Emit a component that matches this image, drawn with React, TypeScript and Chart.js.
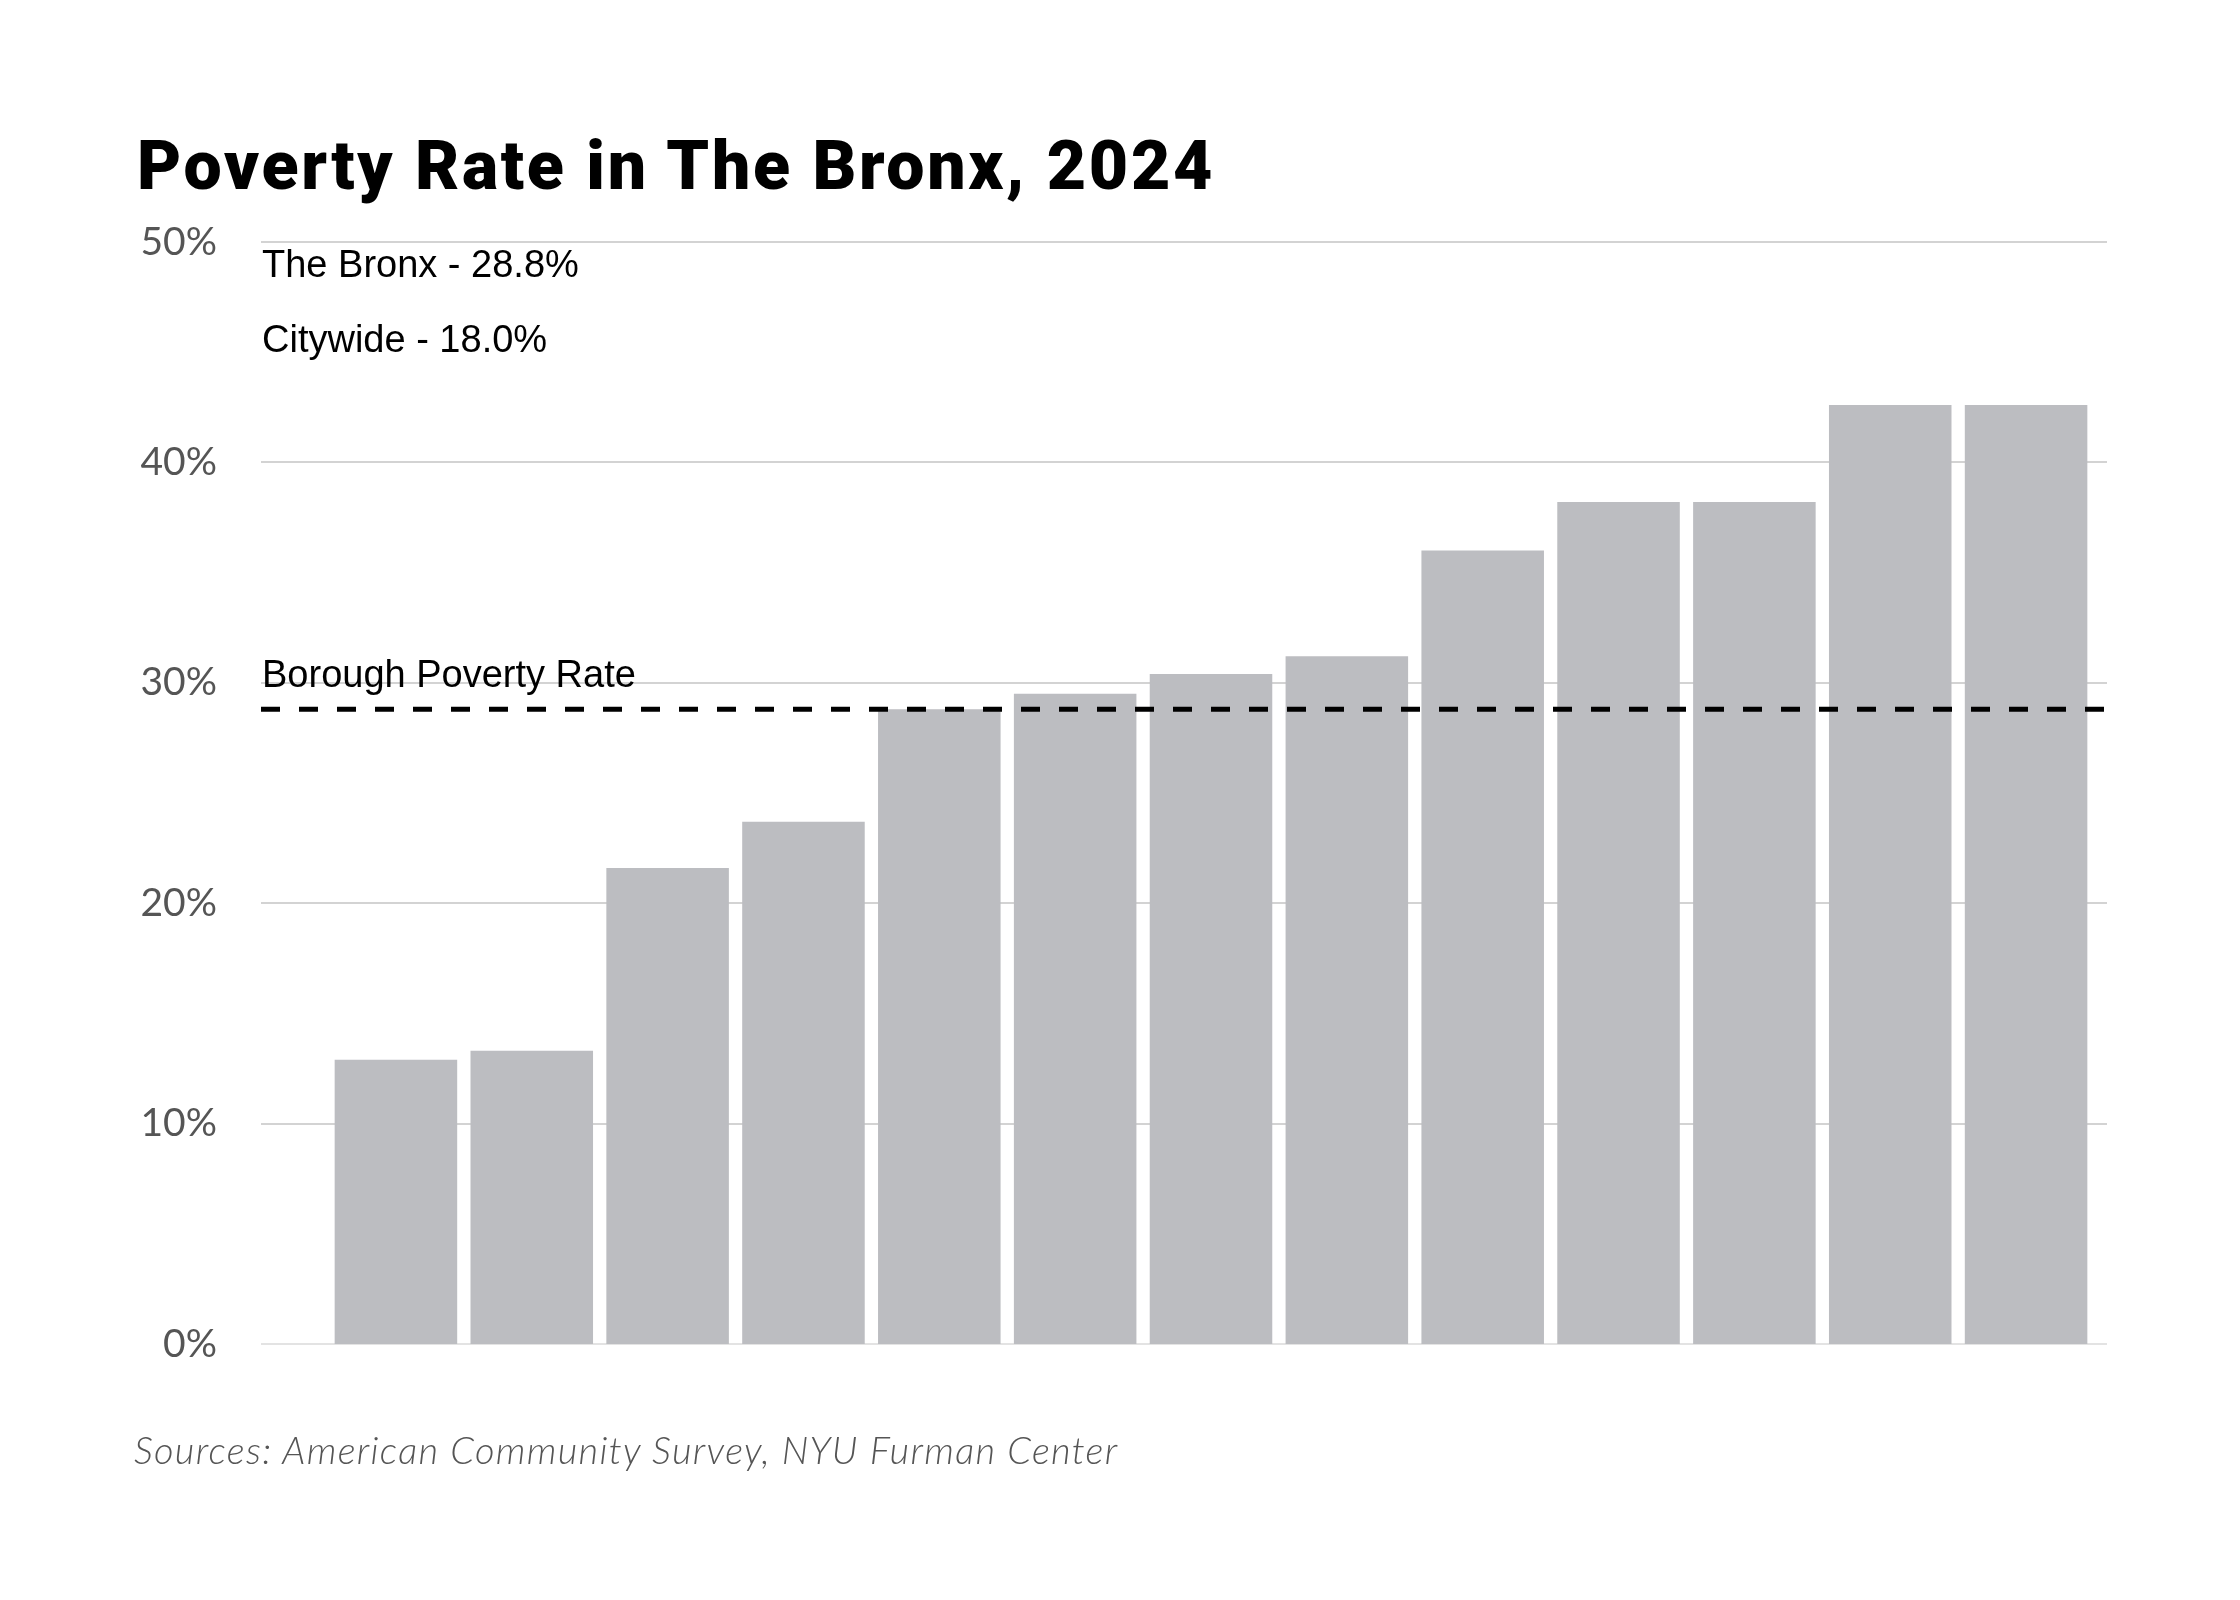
import React, { useEffect, useRef } from "react";
import { Chart, registerables } from "chart.js";

Chart.register(...registerables);

// sorted poverty rate by area (percent)
const areas = [
  "Area 1", "Area 2", "Area 3", "Area 4", "Area 5", "Area 6", "Area 7",
  "Area 8", "Area 9", "Area 10", "Area 11", "Area 12", "Area 13",
];
const povertyRates = [12.9, 13.3, 21.6, 23.7, 28.8, 29.5, 30.4, 31.2, 36.0, 38.2, 38.2, 42.6, 42.6];
const yTicks = [0, 10, 20, 30, 40, 50];
const boroughRate = 28.8;
const summaryLines = ["The Bronx - 28.8%", "Citywide - 18.0%"];
const refLabel = "Borough Poverty Rate";

const GRID_LEFT = 67;
const GRID_RIGHT = 13;

const overlayPlugin = {
  id: "overlay",
  beforeDatasetsDraw(chart: any) {
    const { ctx, chartArea, scales } = chart;
    const y = scales.y;
    ctx.save();
    ctx.lineWidth = 2;
    yTicks.forEach((t) => {
      const py = Math.round(y.getPixelForValue(t));
      ctx.strokeStyle = t === 0 ? "#e3e3e3" : "#d3d3d3";
      ctx.beginPath();
      ctx.moveTo(chartArea.left - GRID_LEFT, py);
      ctx.lineTo(chartArea.right + GRID_RIGHT, py);
      ctx.stroke();
    });
    ctx.restore();
  },
  afterDatasetsDraw(chart: any) {
    const { ctx, chartArea, scales } = chart;
    const y = scales.y;
    const py = y.getPixelForValue(boroughRate);
    const x0 = chartArea.left - GRID_LEFT;
    ctx.save();
    ctx.strokeStyle = "#000";
    ctx.lineWidth = 5;
    ctx.setLineDash([19, 19]);
    ctx.beginPath();
    ctx.moveTo(x0, py);
    ctx.lineTo(chartArea.right + GRID_RIGHT, py);
    ctx.stroke();
    ctx.setLineDash([]);

    ctx.fillStyle = "#000";
    ctx.font = '38px "Liberation Sans", Arial, sans-serif';
    ctx.textAlign = "left";
    ctx.textBaseline = "alphabetic";
    ctx.fillText(refLabel, x0 + 1, py - 22);
    summaryLines.forEach((line, i) => {
      ctx.fillText(line, x0 + 1, chartArea.top + 35 + i * 75);
    });
    ctx.restore();
  },
};

const PovertyChart = () => {
  const canvasRef = useRef<HTMLCanvasElement>(null);

  useEffect(() => {
    const ctx = canvasRef.current!.getContext("2d")!;
    const chart = new Chart(ctx, {
      type: "bar",
      data: {
        labels: areas,
        datasets: [
          {
            label: "Poverty rate",
            data: povertyRates,
            backgroundColor: "#bcbdc1",
            borderWidth: 0,
            barPercentage: 0.902,
            categoryPercentage: 1,
          },
        ],
      },
      options: {
        responsive: false,
        animation: false,
        devicePixelRatio: 1,
        layout: { padding: { left: 137, top: 242, right: 146, bottom: 256 } },
        plugins: {
          legend: { display: false },
          tooltip: { enabled: false },
          title: { display: false },
        },
        scales: {
          x: { display: false },
          y: {
            min: 0,
            max: 50,
            afterFit: (scale: any) => {
              scale.width = 191;
            },
            ticks: {
              stepSize: 10,
              padding: 111,
              color: "#555",
              font: { family: "Lato", size: 39 },
              callback: (v: any) => `${v}%`,
            },
            grid: { display: false, drawTicks: false },
            border: { display: false },
          },
        },
      },
      plugins: [overlayPlugin],
    });

    return () => {
      chart.destroy();
    };
  }, []);

  return <canvas ref={canvasRef} width={2240} height={1600} style={{ position: "absolute", left: 0, top: 0 }} />;
};

export default function App() {
  return (
    <div style={{ position: "absolute", left: 0, top: 0, width: 2240, height: 1600, background: "#fff", overflow: "hidden" }}>
      <PovertyChart />
      <div
        style={{
          position: "absolute",
          left: 137,
          top: 132,
          fontFamily: "Roboto, sans-serif",
          fontWeight: 900,
          fontSize: 68,
          letterSpacing: 2.7,
          lineHeight: 1,
          color: "#000",
          whiteSpace: "nowrap",
        }}
      >
        Poverty Rate in The Bronx, 2024
      </div>
      <div
        style={{
          position: "absolute",
          left: 134,
          top: 1430,
          fontFamily: "Lato, sans-serif",
          fontStyle: "italic",
          fontWeight: 300,
          fontSize: 38,
          letterSpacing: 1.3,
          lineHeight: 1,
          color: "#555",
          whiteSpace: "nowrap",
        }}
      >
        Sources: American Community Survey, NYU Furman Center
      </div>
    </div>
  );
}
